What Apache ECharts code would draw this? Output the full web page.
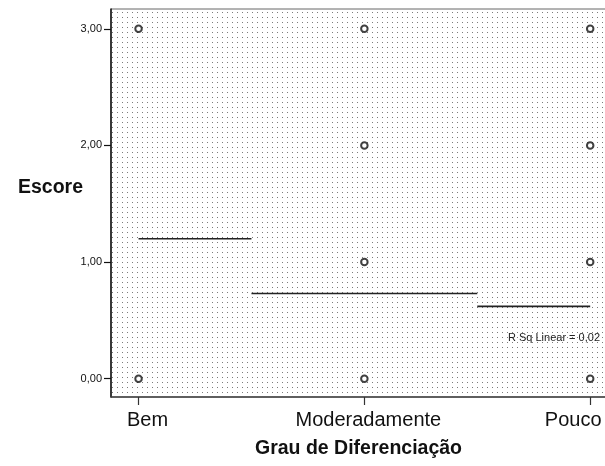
<!DOCTYPE html>
<html>
<head>
<meta charset="utf-8">
<script src="https://cdn.jsdelivr.net/npm/echarts@6/dist/echarts.min.js"></script>
<style>html,body{margin:0;padding:0;background:#fff}#c{width:605px;height:466px}</style>
</head>
<body>
<div id="c"></div>
<script>
var categories = ['Bem', 'Moderadamente', 'Pouco'];
var yTicks = [0, 1, 2, 3];
// observed scores per category
var pointsBem = [3, 0];
var pointsModeradamente = [3, 2, 1, 0];
var pointsPouco = [3, 2, 1, 0];
var meanValues = [1.2, 0.73, 0.62];
var rSqText = 'R Sq Linear = 0,02';

var scatterData = [];
[pointsBem, pointsModeradamente, pointsPouco].forEach(function (arr, i) {
  arr.forEach(function (v) { scatterData.push([i, v]); });
});
var meanSeries = meanValues.map(function (m, i) {
  var x0 = Math.max(0, i - 0.5), x1 = Math.min(categories.length - 1, i + 0.5);
  return {
    type: 'line', data: [[x0, m], [x1, m]], symbol: 'none', silent: true,
    lineStyle: { color: '#222', width: 1.6 }, z: 3
  };
});

var cnv = document.createElement('canvas');
cnv.width = 5; cnv.height = 5;
var ctx = cnv.getContext('2d');
ctx.fillStyle = '#fff'; ctx.fillRect(0, 0, 5, 5);
ctx.fillStyle = '#7c7c7c'; ctx.fillRect(2, 2, 1, 1);

var labelFont = { fontFamily: 'Liberation Sans', fontSize: 20, color: '#111' };
var chart = echarts.init(document.getElementById('c'), null, { renderer: 'canvas' });
chart.setOption({
  animation: false,
  backgroundColor: '#fff',
  grid: {
    left: 111, top: 9, right: -1, bottom: 69, show: true,
    outerBoundsMode: 'none', containLabel: false,
    backgroundColor: { image: cnv, repeat: 'repeat' },
    borderColor: '#666', borderWidth: 1
  },
  xAxis: {
    type: 'value', min: -0.122, max: 2.07,
    name: 'Grau de Diferenciação', nameLocation: 'middle', nameGap: 42,
    nameTextStyle: { fontFamily: 'Liberation Sans', fontWeight: 'bold', fontSize: 19.5, color: '#111' },
    axisLine: { show: true, onZero: false, lineStyle: { color: '#444', width: 1.5 } },
    axisTick: { show: true, customValues: [0, 1, 2], length: 8, lineStyle: { color: '#333', width: 1.2 } },
    axisLabel: {
      customValues: [0, 1, 2], margin: 13, hideOverlap: false,
      formatter: function (v) { var i = Math.round(v); return '{c' + i + '|' + categories[i] + '}'; },
      rich: {
        c0: Object.assign({ padding: [0, 0, 0, 18] }, labelFont),
        c1: Object.assign({ padding: [0, 0, 0, 8] }, labelFont),
        c2: Object.assign({ padding: [0, 34, 0, 0] }, labelFont)
      }
    },
    splitLine: { show: false }
  },
  yAxis: {
    type: 'value', min: -0.157, max: 3.17,
    name: 'Escore', nameLocation: 'middle', nameRotate: 0, nameGap: 28, nameMoveOverlap: false,
    nameTextStyle: { fontFamily: 'Liberation Sans', fontWeight: 'bold', fontSize: 19.5, color: '#111', verticalAlign: 'bottom', padding: [0, 0, 5, 0] },
    axisLine: { show: true, onZero: false, lineStyle: { color: '#111', width: 1.5 } },
    axisTick: { show: true, customValues: yTicks, length: 7, lineStyle: { color: '#111', width: 1.2 } },
    axisLabel: {
      customValues: yTicks, margin: 9,
      formatter: function (v) { return v.toFixed(2).replace('.', ','); },
      fontFamily: 'Liberation Sans', fontSize: 11, color: '#111'
    },
    splitLine: { show: false }
  },
  graphic: [{
    type: 'text', right: 5, top: 332,
    style: { text: rSqText, fontFamily: 'Liberation Sans', fontSize: 11, fill: '#222' }
  }],
  series: [{
    type: 'scatter', data: scatterData, symbol: 'emptyCircle', symbolSize: 6.5,
    itemStyle: { color: '#111', borderWidth: 1.9 }, z: 4
  }].concat(meanSeries)
});
</script>
</body>
</html>
